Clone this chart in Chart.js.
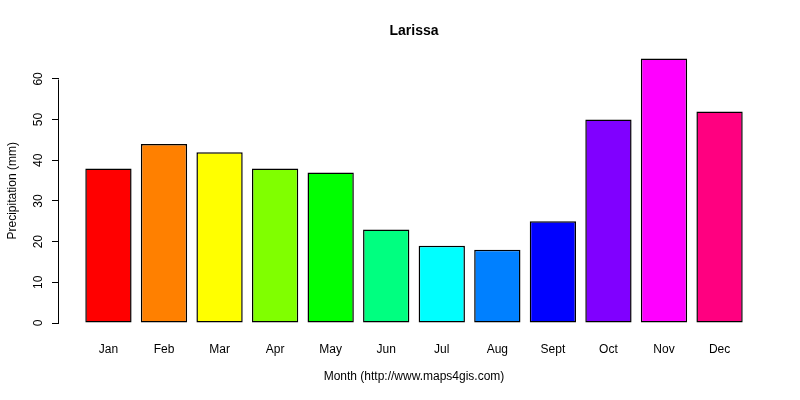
<!DOCTYPE html>
<html>
<head>
<meta charset="utf-8">
<script src="https://cdn.jsdelivr.net/npm/chart.js@4/dist/chart.umd.min.js"></script>
<style>
  html, body { margin: 0; padding: 0; background: #fff; }
  #wrap { width: 800px; height: 400px; }
</style>
</head>
<body>
<div id="wrap"><canvas id="precip-chart"></canvas></div>
<script>
// Larissa monthly precipitation
const months = ['Jan', 'Feb', 'Mar', 'Apr', 'May', 'Jun', 'Jul', 'Aug', 'Sept', 'Oct', 'Nov', 'Dec'];
const precipitation = [38, 44, 42, 38, 37, 23, 19, 18, 25, 50, 65, 52];
const barColors = ['#FF0000', '#FF8000', '#FFFF00', '#80FF00', '#00FF00', '#00FF80',
                   '#00FFFF', '#0080FF', '#0000FF', '#8000FF', '#FF00FF', '#FF0080'];
const yTicks = [0, 10, 20, 30, 40, 50, 60];

// barplot layout: bar width 1, space 0.2
const barCenter = i => 0.7 + 1.2 * i;
const xMin = 0.2 - 0.568, xMax = 14.4 + 0.568;
const yMin = -2.6, yMax = 67.6;

const font = "'Liberation Sans', Arial, sans-serif";
Chart.defaults.font.family = font;
Chart.defaults.color = '#000';

// y axis drawn the R way: line only over the tick range, labels turned
const rAxisPlugin = {
    id: 'rAxis',
    afterDraw(chart) {
        const ctx = chart.ctx;
        const y = chart.scales.y;
        const x0 = chart.chartArea.left;
        ctx.save();
        ctx.strokeStyle = '#000';
        ctx.lineWidth = 1;
        ctx.beginPath();
        ctx.moveTo(x0 - 0.5, Math.round(y.getPixelForValue(yTicks[0])) + 0.5);
        ctx.lineTo(x0 - 0.5, Math.round(y.getPixelForValue(yTicks[yTicks.length - 1])) + 0.5);
        ctx.stroke();

        ctx.fillStyle = '#000';
        ctx.font = '12px ' + font;
        ctx.textAlign = 'center';
        ctx.textBaseline = 'alphabetic';
        yTicks.forEach(v => {
            ctx.save();
            ctx.translate(42, y.getPixelForValue(v));
            ctx.rotate(-Math.PI / 2);
            ctx.fillText(String(v), 0, 0);
            ctx.restore();
        });
        ctx.restore();
    }
};

const ctx = document.getElementById('precip-chart').getContext('2d');
new Chart(ctx, {
    type: 'bar',
    data: {
        datasets: [{
            data: precipitation.map((v, i) => ({ x: barCenter(i), y: v })),
            backgroundColor: barColors,
            borderColor: '#000',
            borderWidth: 1.5,
            borderSkipped: false,
            barPercentage: 1,
            categoryPercentage: 1 / 1.2
        }]
    },
    options: {
        responsive: true,
        maintainAspectRatio: false,
        animation: false,
        layout: { padding: { top: 0, right: 31, bottom: 0, left: 0 } },
        plugins: {
            legend: { display: false },
            tooltip: { enabled: false },
            title: {
                display: true,
                fullSize: false,
                text: 'Larissa',
                font: { size: 14, weight: 'bold', lineHeight: 1 },
                padding: { top: 24, bottom: 10 },
                color: '#000'
            }
        },
        scales: {
            x: {
                type: 'linear',
                offset: false,
                min: xMin,
                max: xMax,
                grid: { display: false, drawTicks: false, offset: false },
                border: { display: false },
                afterBuildTicks: scale => {
                    scale.ticks = months.map((m, i) => ({ value: barCenter(i) }));
                },
                afterFit: scale => { scale.height = 66.4; },
                ticks: {
                    autoSkip: false,
                    maxRotation: 0,
                    padding: 9,
                    font: { size: 12 },
                    callback: (value, index) => months[index]
                },
                title: {
                    display: true,
                    text: 'Month (http://www.maps4gis.com)',
                    font: { size: 12 },
                    padding: { top: 0, bottom: 15.8 }
                }
            },
            y: {
                min: yMin,
                max: yMax,
                afterBuildTicks: scale => {
                    scale.ticks = yTicks.map(v => ({ value: v }));
                },
                afterFit: scale => { scale.width = 59; },
                grid: {
                    drawOnChartArea: false,
                    drawTicks: true,
                    tickLength: 7,
                    color: '#000'
                },
                border: { display: false },
                ticks: { display: false },
                title: {
                    display: true,
                    text: 'Precipitation (mm)',
                    font: { size: 12 },
                    padding: { top: 5, bottom: 0 }
                }
            }
        }
    },
    plugins: [rAxisPlugin]
});
</script>
</body>
</html>
